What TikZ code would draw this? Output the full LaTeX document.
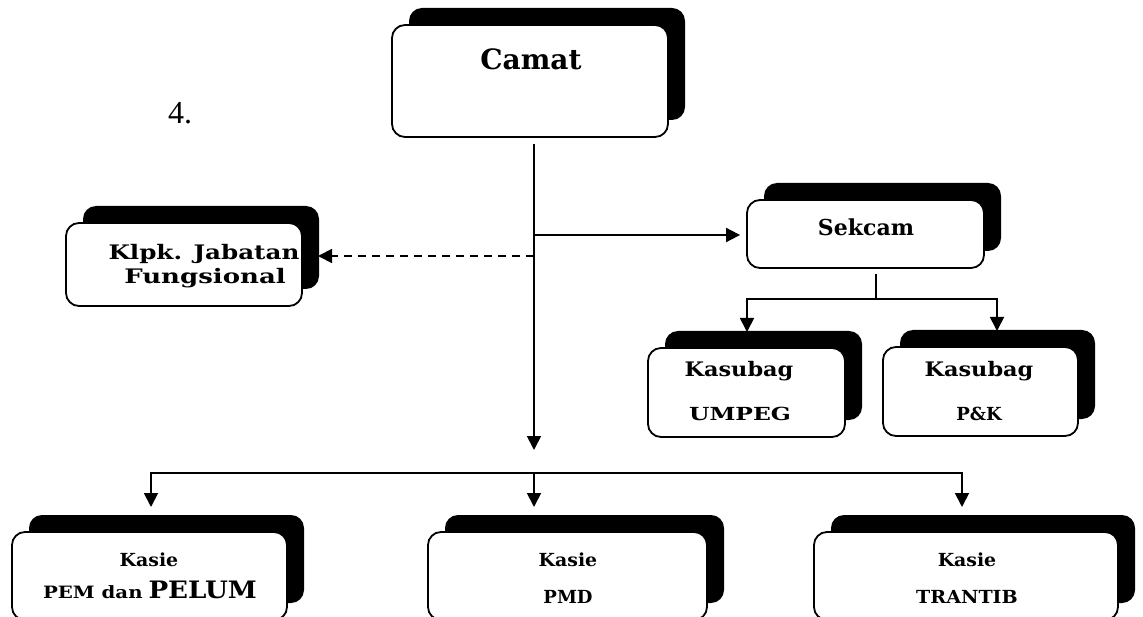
\documentclass[tikz,border=0pt]{standalone}
\usepackage{fontspec}
\usepackage{graphicx}
\setmainfont{DejaVu Serif}
\newfontfamily\numfont{Liberation Serif}
\newcommand\hstretch[2]{\scalebox{#1}[1]{#2}}
\usetikzlibrary{arrows.meta,shadows}
\begin{document}
\begin{tikzpicture}[x=1pt,y=-1pt,
  box/.style={draw=black, line width=1.8pt, fill=white, rounded corners=13pt, inner sep=0pt,
    general shadow={fill=black, shadow xshift=17pt, shadow yshift=17pt}},
  lbl/.style={inner sep=0pt, anchor=base, font=\bfseries},
  conn/.style={line width=1.8pt, -{Triangle[length=14pt,width=14pt]}},
  plain/.style={line width=1.8pt},
  dashconn/.style={line width=1.8pt, dash pattern=on 8pt off 6pt, -{Triangle[length=14pt,width=14pt]}}
]
\useasboundingbox (0,0) rectangle (1143,617);
\begin{scope}
\clip (0,0) rectangle (1143,617);
% boxes
\node[box, minimum width=276pt, minimum height=112pt] (camat) at (530,81) {};
\node[box, minimum width=236pt, minimum height=83pt] (klpk) at (184,264.5) {};
\node[box, minimum width=237pt, minimum height=68pt] (sekcam) at (865.5,234) {};
\node[box, minimum width=197pt, minimum height=89pt] (umpeg) at (746.5,392.5) {};
\node[box, minimum width=195pt, minimum height=89pt] (pk) at (980.5,391.5) {};
\node[box, minimum width=275pt, minimum height=88pt] (pem) at (149.5,576) {};
\node[box, minimum width=279pt, minimum height=88pt] (pmd) at (567.5,576) {};
\node[box, minimum width=304pt, minimum height=88pt] (trantib) at (966,576) {};
\end{scope}
% texts
\node[lbl, font=\bfseries\fontsize{28}{30}\selectfont] (tcamat) at (531,70) {Camat};
\node[inner sep=0pt, anchor=base, font=\numfont\fontsize{32}{34}\selectfont] (tfour) at (180,124) {4.};
\node[lbl, font=\bfseries\fontsize{20}{22}\selectfont] (tklpk1) at (204,260) {\hstretch{1.23}{Klpk. Jabatan}};
\node[lbl, font=\bfseries\fontsize{20}{22}\selectfont] (tklpk2) at (205,284) {\hstretch{1.3}{Fungsional}};
\node[lbl, font=\bfseries\fontsize{22}{24}\selectfont] (tsek) at (866,236) {Sekcam};
\node[lbl, font=\bfseries\fontsize{20}{22}\selectfont] (tumpeg1) at (739,377) {\hstretch{1.12}{Kasubag}};
\node[lbl, font=\bfseries\fontsize{18}{20}\selectfont] (tumpeg2) at (740,420) {\hstretch{1.3}{UMPEG}};
\node[lbl, font=\bfseries\fontsize{20}{22}\selectfont] (tpk1) at (979,377) {\hstretch{1.12}{Kasubag}};
\node[lbl, font=\bfseries\fontsize{18}{20}\selectfont] (tpk2) at (979,420) {P\&K};
\node[lbl, font=\bfseries\fontsize{18}{20}\selectfont] (tpem1) at (149,566) {\hstretch{1.05}{Kasie}};
\node[lbl, font=\bfseries\fontsize{17}{19}\selectfont] (tpem2) at (150,598) {\hstretch{1.16}{PEM dan} \hstretch{1.09}{\fontsize{24}{26}\selectfont PELUM}};
\node[lbl, font=\bfseries\fontsize{18}{20}\selectfont] (tpmd1) at (568,566) {\hstretch{1.05}{Kasie}};
\node[lbl, font=\bfseries\fontsize{18}{20}\selectfont] (tpmd2) at (568,603) {PMD};
\node[lbl, font=\bfseries\fontsize{18}{20}\selectfont] (ttr1) at (967,566) {\hstretch{1.05}{Kasie}};
\node[lbl, font=\bfseries\fontsize{18}{20}\selectfont] (ttr2) at (967,603) {\hstretch{1.06}{TRANTIB}};
% connector points
\coordinate (mtop) at (534,144);
\coordinate (mend) at (534,450);
\coordinate (jsek) at (534,235);
\coordinate (jklpk) at (534,256);
\coordinate (klpkend) at (318,256);
\coordinate (bus) at (534,473);
\coordinate (sbot) at (876,274);
\coordinate (sbar) at (876,299);
% connectors
\draw[conn] (mtop) -- (mend);
\draw[conn, shorten >=6pt] (jsek) -- (jsek -| sekcam.west);
\draw[dashconn] (jklpk) -- (klpkend);
\draw[plain] (sbot) -- (sbar);
\draw[conn] (sbar) -| (747,332);
\draw[conn] (sbar) -| (997,331);
\draw[conn] (bus) -| (151,507);
\draw[conn] (bus) -| (962,507);
\draw[conn] (bus) -- (534,507);
\end{tikzpicture}
\end{document}
